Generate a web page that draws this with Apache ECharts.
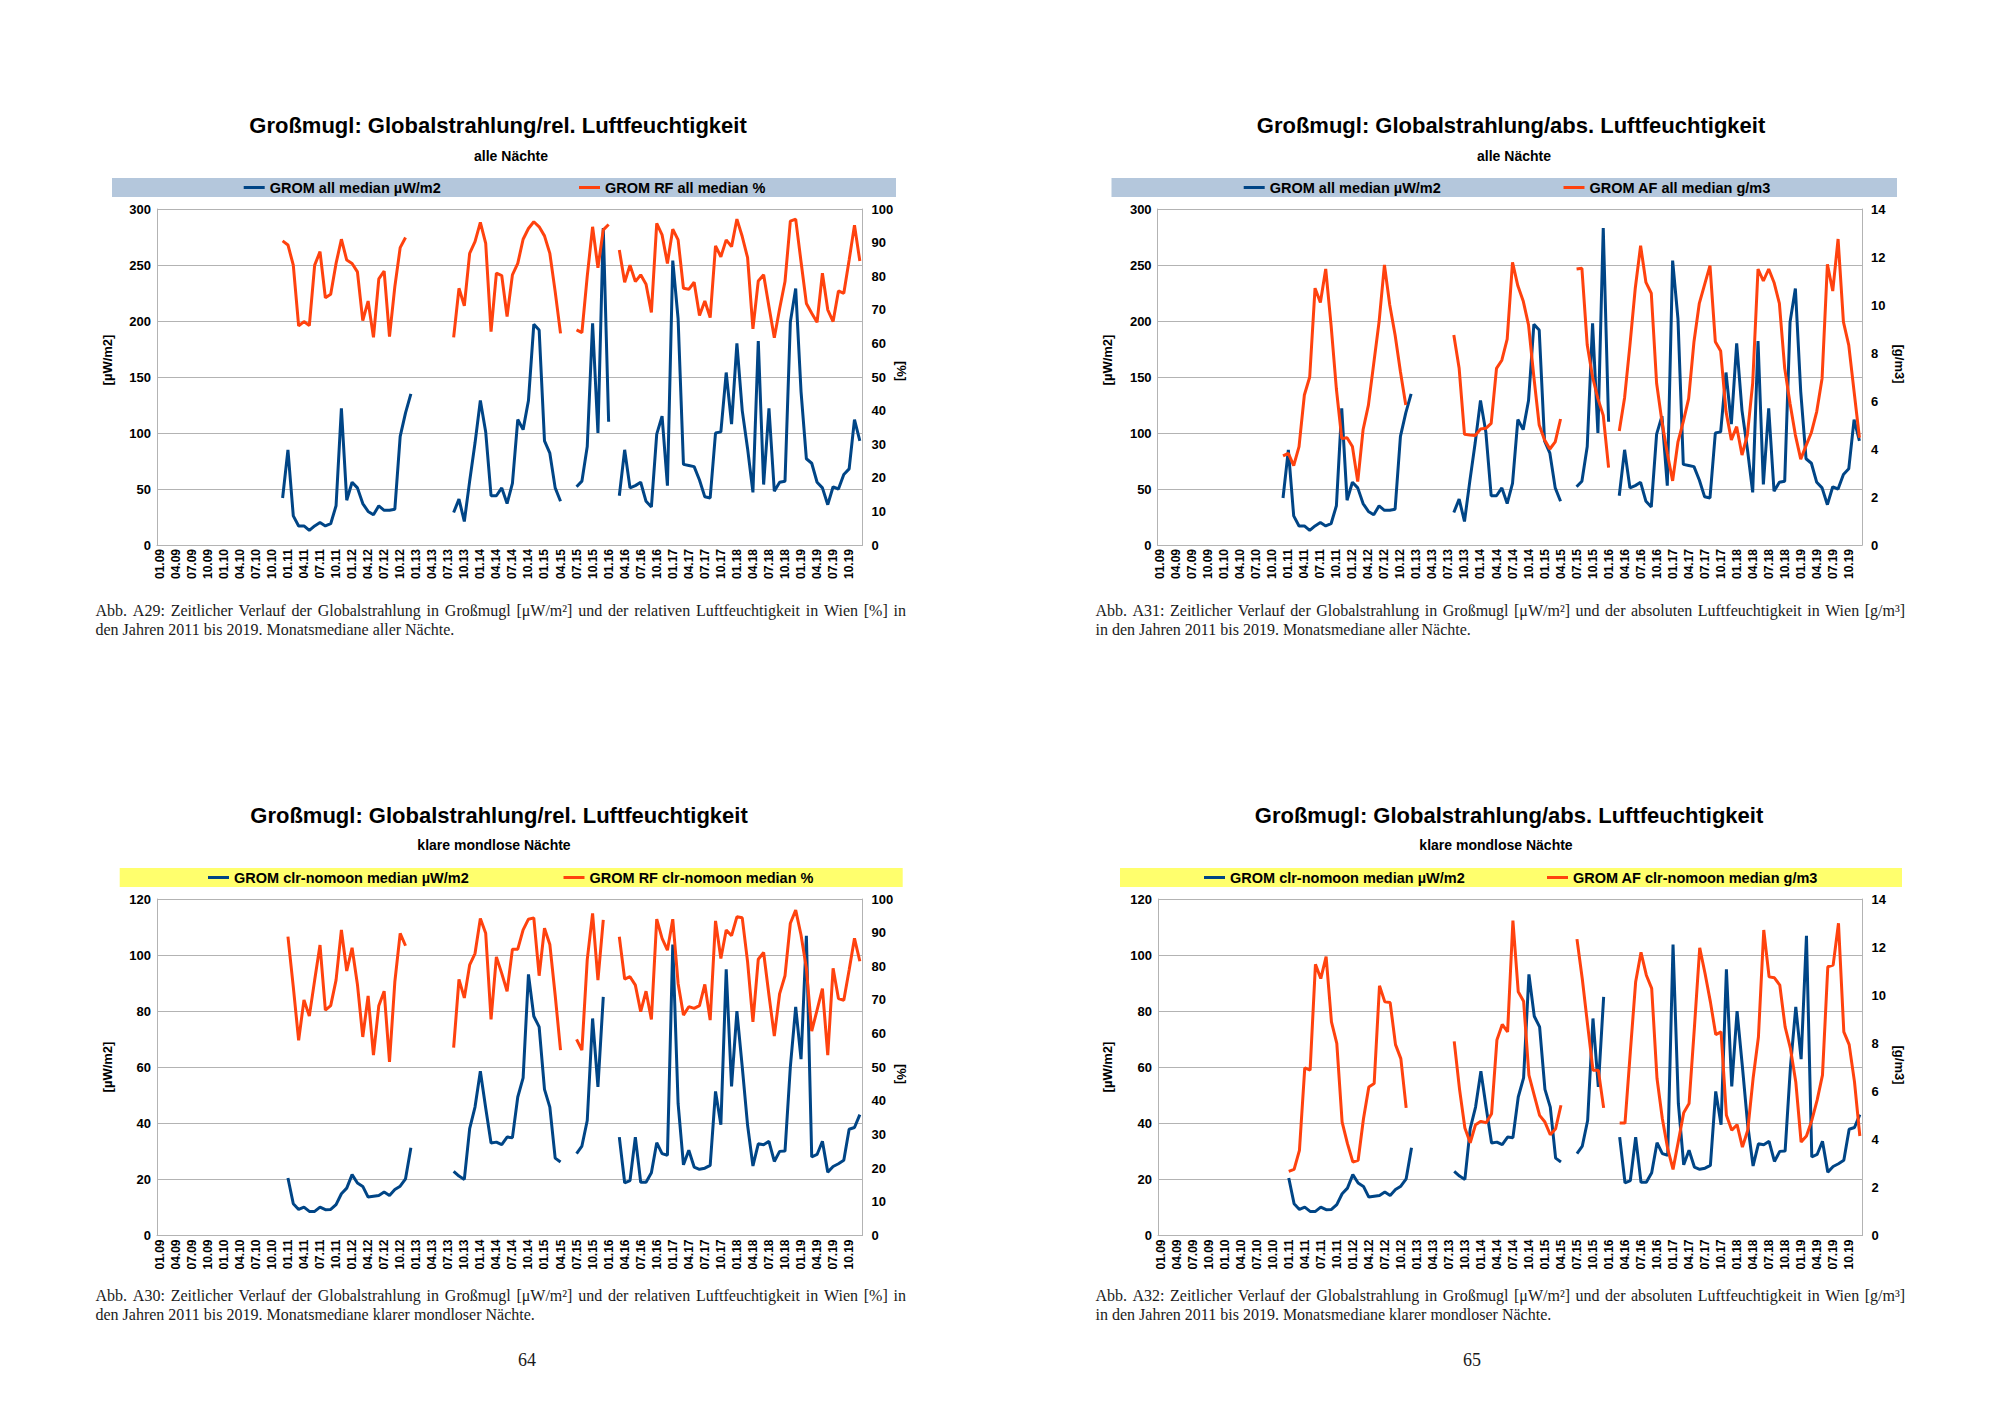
<!DOCTYPE html>
<html><head><meta charset="utf-8">
<script src="https://cdn.jsdelivr.net/npm/echarts@6/dist/echarts.min.js"></script>
<style>html,body{margin:0;padding:0;background:#fff}#c{width:2000px;height:1414px}</style>
</head><body><div id="c"></div>
<script>
// ---- tick labels / categories (monthly, 01.09 .. 12.19) ----
const monthCodes = ['01','02','03','04','05','06','07','08','09','10','11','12'];
const yearCodes = ['09','10','11','12','13','14','15','16','17','18','19'];
const categories = [];
yearCodes.forEach(y => monthCodes.forEach(m => categories.push(m + '.' + y)));

// ---- series values (monthly medians) ----
const gromAll = [
 null,null,null,null,null,null,null,null,null,null,
 null,null,null,null,null,null,null,null,null,null,
 null,null,null,
 42,85,26,17,17,13,17,20,17,19,35,122,40,56,51,37,30,27,35,31,31,32,97,118,135,
 null,null,null,null,null,null,null,
 29,41,21,57,91,129,101,44,44,51,37,55,112,103,129,197,192,93,82,51,39,
 null,null,
 52,57,88,198,100,283,110,
 null,
 44,85,51,53,56,39,34,99,115,53,254,202,72,71,70,58,43,42,100,101,154,108,180,120,86,47,182,54,122,48,56,57,199,229,137,77,73,56,51,36,52,50,63,68,112,93
];
const rfAll = [
 null,null,null,null,null,null,null,null,null,null,
 null,null,null,null,null,null,null,null,null,null,
 null,null,null,
 90.5,89.3,83.3,65.2,66.5,65.3,83.3,87.3,73.6,74.6,83.8,91,84.8,83.8,81.3,66.8,72.6,61.8,79.2,81.5,62,76.9,88.5,91.5,
 null,null,null,null,null,null,null,null,
 61.8,76.4,71.2,86.8,90.3,96,89.8,63.5,80.9,80.2,68,80.4,83.8,91,94.2,96.2,94.7,92,86.8,75.4,63,
 null,null,
 64,63.2,80,94.7,82.5,93.8,95.4,
 null,
 87.8,78.2,83.3,78.4,80.4,77.6,69.2,95.7,92.3,83.8,94,90.8,76.4,76.1,78.2,68.3,72.6,67.7,89,85.8,90.8,88.8,97,91.8,85.5,64.3,78.6,80.4,70.9,61.7,70.4,78.4,96.4,97,84.3,71.9,69,66.3,80.9,70,66.5,75.6,74.9,84.8,95.2,84.5
];
const afAll = [
 null,null,null,null,null,null,null,null,null,null,
 null,null,null,null,null,null,null,null,null,null,
 null,null,null,
 3.71,3.82,3.31,4.1,6.25,7.0,10.7,10.1,11.5,9.17,6.5,4.44,4.47,4.1,2.64,4.8,5.83,7.57,9.3,11.67,10.0,8.75,7.22,5.83,
 null,null,null,null,null,null,null,null,
 8.75,7.36,4.61,4.58,4.56,4.83,4.86,5.07,7.36,7.7,8.58,11.78,10.8,10.17,9.17,7.0,5.0,4.38,4.0,4.3,5.25,
 null,null,
 11.5,11.53,8.33,7.0,6.1,5.4,3.22,
 null,
 4.75,6.14,8.33,10.7,12.47,10.94,10.49,6.74,5.14,3.82,2.67,4.3,5.14,6.1,8.47,10.07,10.86,11.64,8.47,8.08,5.56,4.38,4.93,3.75,4.58,6.74,11.5,11.0,11.5,10.94,10.07,7.36,5.9,4.58,3.58,4.14,4.69,5.56,6.94,11.7,10.58,12.75,9.3,8.33,6.39,4.47
];
const gromClr = [
 null,null,null,null,null,null,null,null,null,null,
 null,null,null,null,null,null,null,null,null,null,
 null,null,null,null,
 20.5,11.3,9.3,10.1,8.6,8.6,10.1,9.2,9.3,11,14.9,16.9,21.7,18.7,17.5,13.7,14,14.3,15.5,14.3,16.4,17.6,20.2,31.3,
 null,null,null,null,null,null,null,
 22.9,21.2,20,38.1,45.8,58.6,45.5,33,33.3,32.4,35.1,34.9,49.4,56.2,93.1,78.2,74.4,52.1,45.8,27.6,26.2,
 null,null,
 29.2,31.9,41,77.4,53,85.1,
 null,null,
 35.1,18.8,19.6,35.1,19,19,22.4,33.1,29.2,28.6,103.8,47,25.2,30.4,24.4,23.6,24,25,51.4,39.5,94.9,53.2,80,60.1,39.3,24.8,32.7,32.4,33.6,26.4,30,30.1,60.1,81.5,62.9,106.9,28,28.9,33.6,22.6,24.6,25.6,26.8,37.9,38.5,43.1
];
const rfClr = [
 null,null,null,null,null,null,null,null,null,null,
 null,null,null,null,null,null,null,null,null,null,
 null,null,null,null,
 88.8,73.9,58,70,65.2,75.9,86.3,67,68.3,75.9,90.8,78.6,85.5,74.6,59,71.2,53.6,68.3,72.6,51.6,75.4,89.8,86.1,
 null,null,null,null,null,null,null,null,
 55.8,76.1,70.6,80.4,83.8,94.2,89.8,64.2,82.8,77.9,72.6,85.1,85.1,90.8,94,94.4,77.2,91.3,86.5,71.4,55.1,
 null,null,
 58.3,55.1,82,95.7,75.9,93.8,
 null,null,
 88.8,76.2,76.9,74.4,66.5,72.6,64.2,94,88.3,84.8,94,74.9,65.5,68,67.5,68.3,74.6,64,93.5,82.3,90.8,89.1,94.7,94.4,81.3,63.5,82.1,84.1,71.4,59.3,71.9,77.2,92.8,96.7,89.3,79.4,60.7,67,73.4,53.6,79.4,70.4,69.9,78.9,88.3,81.5
];
const afClr = [
 null,null,null,null,null,null,null,null,null,null,
 null,null,null,null,null,null,null,null,null,null,
 null,null,null,null,
 2.67,2.75,3.54,6.97,6.88,11.28,10.69,11.6,8.89,7.99,4.72,3.82,3.06,3.13,4.86,6.18,6.32,10.39,9.72,9.69,7.94,7.36,5.31,
 null,null,null,null,null,null,null,null,
 8.08,6.08,4.47,3.86,4.61,4.75,4.69,5.07,8.13,8.78,8.47,13.1,10.14,9.75,6.67,5.83,5.0,4.72,4.19,4.44,5.42,
 null,null,
 12.33,10.67,8.75,6.88,6.88,5.31,
 null,null,
 4.68,4.68,7.64,10.56,11.78,10.83,10.28,6.53,4.86,3.61,2.75,3.92,5.11,5.49,8.64,11.97,10.9,9.72,8.36,8.47,5.0,4.38,4.61,3.68,4.38,6.53,8.26,12.71,10.76,10.72,10.42,8.68,7.78,6.39,3.89,4.14,4.79,5.63,6.67,11.18,11.25,12.99,8.47,7.94,6.39,4.14
];

// ---- texts ----
const titles = ['Großmugl: Globalstrahlung/rel. Luftfeuchtigkeit','Großmugl: Globalstrahlung/abs. Luftfeuchtigkeit',
                'Großmugl: Globalstrahlung/rel. Luftfeuchtigkeit','Großmugl: Globalstrahlung/abs. Luftfeuchtigkeit'];
const subtitles = ['alle Nächte','alle Nächte','klare mondlose Nächte','klare mondlose Nächte'];
const seriesNames = [
  ['GROM all median µW/m2','GROM RF all median %'],
  ['GROM all median µW/m2','GROM AF all median g/m3'],
  ['GROM clr-nomoon median µW/m2','GROM RF clr-nomoon median %'],
  ['GROM clr-nomoon median µW/m2','GROM AF clr-nomoon median g/m3']
];
const leftNames = ['[µW/m2]','[µW/m2]','[µW/m2]','[µW/m2]'];
const rightNames = ['[%]','[g/m3]','[%]','[g/m3]'];
const captions = [
  ['Abb. A29: Zeitlicher Verlauf der Globalstrahlung in Großmugl [μW/m²] und der relativen Luftfeuchtigkeit in Wien [%] in','den Jahren 2011 bis 2019. Monatsmediane aller Nächte.'],
  ['Abb. A31: Zeitlicher Verlauf der Globalstrahlung in Großmugl [μW/m²] und der absoluten Luftfeuchtigkeit in Wien [g/m³]','in den Jahren 2011 bis 2019. Monatsmediane aller Nächte.'],
  ['Abb. A30: Zeitlicher Verlauf der Globalstrahlung in Großmugl [μW/m²] und der relativen Luftfeuchtigkeit in Wien [%] in','den Jahren 2011 bis 2019. Monatsmediane klarer mondloser Nächte.'],
  ['Abb. A32: Zeitlicher Verlauf der Globalstrahlung in Großmugl [μW/m²] und der absoluten Luftfeuchtigkeit in Wien [g/m³]','in den Jahren 2011 bis 2019. Monatsmediane klarer mondloser Nächte.']
];
const pageNumbers = ['64','65'];

// ---- layout ----
const BLUE = '#004586', ORANGE = '#ff420e', GRID = '#b3b3b3';
const SANS = '"Liberation Sans", Arial, sans-serif';
const SERIF = '"Liberation Serif", "Times New Roman", serif';
const panels = [
  {left:157,  top:209, w:705.5, h:336, leftMax:300, leftInt:50, rMax:100, rInt:10, data:[gromAll, rfAll], legBg:'#b4c7dc',
   leg:{x:112, y:178, w:784, h:19, i1:243.7, i2:579}, title:{x:498, y:125.5}, sub:{x:511, y:156},
   lName:{x:107.5, y:360}, rName:{x:901, y:371}, cap:{x0:95.5, x1:906, y1:610, y2:629}},
  {left:1157.6, top:209, w:704.5, h:336, leftMax:300, leftInt:50, rMax:14, rInt:2, data:[gromAll, afAll], legBg:'#b4c7dc',
   leg:{x:1111.5, y:178, w:785.5, h:19, i1:1243.7, i2:1563.5}, title:{x:1511, y:125.5}, sub:{x:1514, y:156},
   lName:{x:1107.5, y:360}, rName:{x:1899, y:364}, cap:{x0:1095.5, x1:1905, y1:610, y2:629}},
  {left:157,  top:899, w:705.5, h:336.5, leftMax:120, leftInt:20, rMax:100, rInt:10, data:[gromClr, rfClr], legBg:'#ffff6d',
   leg:{x:119.7, y:868, w:783, h:19, i1:208, i2:563.5}, title:{x:499, y:815}, sub:{x:494, y:845},
   lName:{x:107.5, y:1067}, rName:{x:901, y:1074}, cap:{x0:95.5, x1:906, y1:1295, y2:1314}},
  {left:1158, top:899, w:704.5, h:336.5, leftMax:120, leftInt:20, rMax:14, rInt:2, data:[gromClr, afClr], legBg:'#ffff6d',
   leg:{x:1120, y:868, w:782, h:19, i1:1204, i2:1547}, title:{x:1509, y:815}, sub:{x:1496, y:845},
   lName:{x:1107.5, y:1067}, rName:{x:1899, y:1065}, cap:{x0:1095.5, x1:1905, y1:1295, y2:1314}}
];

const measureCtx = document.createElement('canvas').getContext('2d');
function captionElements(lines, c) {
  const fs = 16;
  measureCtx.font = fs + 'px "Liberation Serif"';
  const words = lines[0].split(' ');
  const widths = words.map(w => measureCtx.measureText(w).width);
  const total = widths.reduce((a, b) => a + b, 0);
  const gap = (c.x1 - c.x0 - total) / (words.length - 1);
  const els = [];
  let x = c.x0;
  words.forEach((w, i) => {
    els.push({type:'text', x:x, y:c.y1, silent:true,
      style:{text:w, fontSize:fs, fontFamily:SERIF, fill:'#1a1a1a', verticalAlign:'middle', align:'left'}});
    x += widths[i] + gap;
  });
  els.push({type:'text', x:c.x0, y:c.y2, silent:true,
    style:{text:lines[1], fontSize:fs, fontFamily:SERIF, fill:'#1a1a1a', verticalAlign:'middle', align:'left'}});
  return els;
}

const grid = [], xAxis = [], yAxis = [], series = [], legend = [], graphic = [];
panels.forEach((p, k) => {
  grid.push({left:p.left, top:p.top, width:p.w, height:p.h, containLabel:false});
  xAxis.push({type:'category', gridIndex:k, data:categories, boundaryGap:true,
    axisLine:{show:true, lineStyle:{color:GRID, width:1}}, axisTick:{show:false},
    axisLabel:{interval:2, rotate:90, fontSize:12, fontWeight:'bold', fontFamily:SANS, color:'#000', margin:4},
    splitLine:{show:false}});
  yAxis.push({type:'value', gridIndex:k, position:'left', min:0, max:p.leftMax, interval:p.leftInt,
    axisLine:{show:true, lineStyle:{color:GRID, width:1}}, axisTick:{show:false},
    axisLabel:{fontSize:13, fontWeight:'bold', fontFamily:SANS, color:'#000', margin:6},
    splitLine:{show:true, lineStyle:{color:GRID, width:1}}});
  yAxis.push({type:'value', gridIndex:k, position:'right', min:0, max:p.rMax, interval:p.rInt,
    axisLine:{show:true, lineStyle:{color:GRID, width:1}}, axisTick:{show:false},
    axisLabel:{fontSize:13, fontWeight:'bold', fontFamily:SANS, color:'#000', margin:9},
    splitLine:{show:false}});
  [0, 1].forEach(j => {
    series.push({type:'line', name:seriesNames[k][j], xAxisIndex:k, yAxisIndex:2*k + j,
      data:p.data[j], showSymbol:false, symbol:'none', connectNulls:false,
      lineStyle:{color:j ? ORANGE : BLUE, width:3}, itemStyle:{color:j ? ORANGE : BLUE}, emphasis:{disabled:true}});
    legend.push({data:[seriesNames[k][j]], left:j ? p.leg.i2 : p.leg.i1, top:p.leg.y + p.leg.h / 2 - 7.5,
      padding:0, icon:'rect', itemWidth:21, itemHeight:3, selectedMode:false,
      textStyle:{fontSize:14.5, fontWeight:'bold', fontFamily:SANS, color:'#000', lineHeight:15}});
  });
  graphic.push({type:'rect', shape:{x:p.leg.x, y:p.leg.y, width:p.leg.w, height:p.leg.h}, style:{fill:p.legBg}, z:-10, silent:true});
  graphic.push({type:'text', x:p.title.x, y:p.title.y, silent:true,
    style:{text:titles[k], fontSize:22, fontWeight:'bold', fontFamily:SANS, fill:'#000', align:'center', verticalAlign:'middle'}});
  graphic.push({type:'text', x:p.sub.x, y:p.sub.y, silent:true,
    style:{text:subtitles[k], fontSize:14, fontWeight:'bold', fontFamily:SANS, fill:'#000', align:'center', verticalAlign:'middle'}});
  graphic.push({type:'text', x:p.lName.x, y:p.lName.y, rotation:Math.PI / 2, silent:true,
    style:{text:leftNames[k], fontSize:13, fontWeight:'bold', fontFamily:SANS, fill:'#000', align:'center', verticalAlign:'middle'}});
  graphic.push({type:'text', x:p.rName.x, y:p.rName.y, rotation:-Math.PI / 2, silent:true,
    style:{text:rightNames[k], fontSize:13, fontWeight:'bold', fontFamily:SANS, fill:'#000', align:'center', verticalAlign:'middle'}});
  captionElements(captions[k], p.cap).forEach(e => graphic.push(e));
});
graphic.push({type:'text', x:527, y:1360, silent:true,
  style:{text:pageNumbers[0], fontSize:18, fontFamily:SERIF, fill:'#1a1a1a', align:'center', verticalAlign:'middle'}});
graphic.push({type:'text', x:1472, y:1360, silent:true,
  style:{text:pageNumbers[1], fontSize:18, fontFamily:SERIF, fill:'#1a1a1a', align:'center', verticalAlign:'middle'}});

const chart = echarts.init(document.getElementById('c'), null, {renderer:'svg', width:2000, height:1414});
chart.setOption({
  backgroundColor:'#ffffff', animation:false,
  grid, xAxis, yAxis, series, legend, graphic
});
</script></body></html>
